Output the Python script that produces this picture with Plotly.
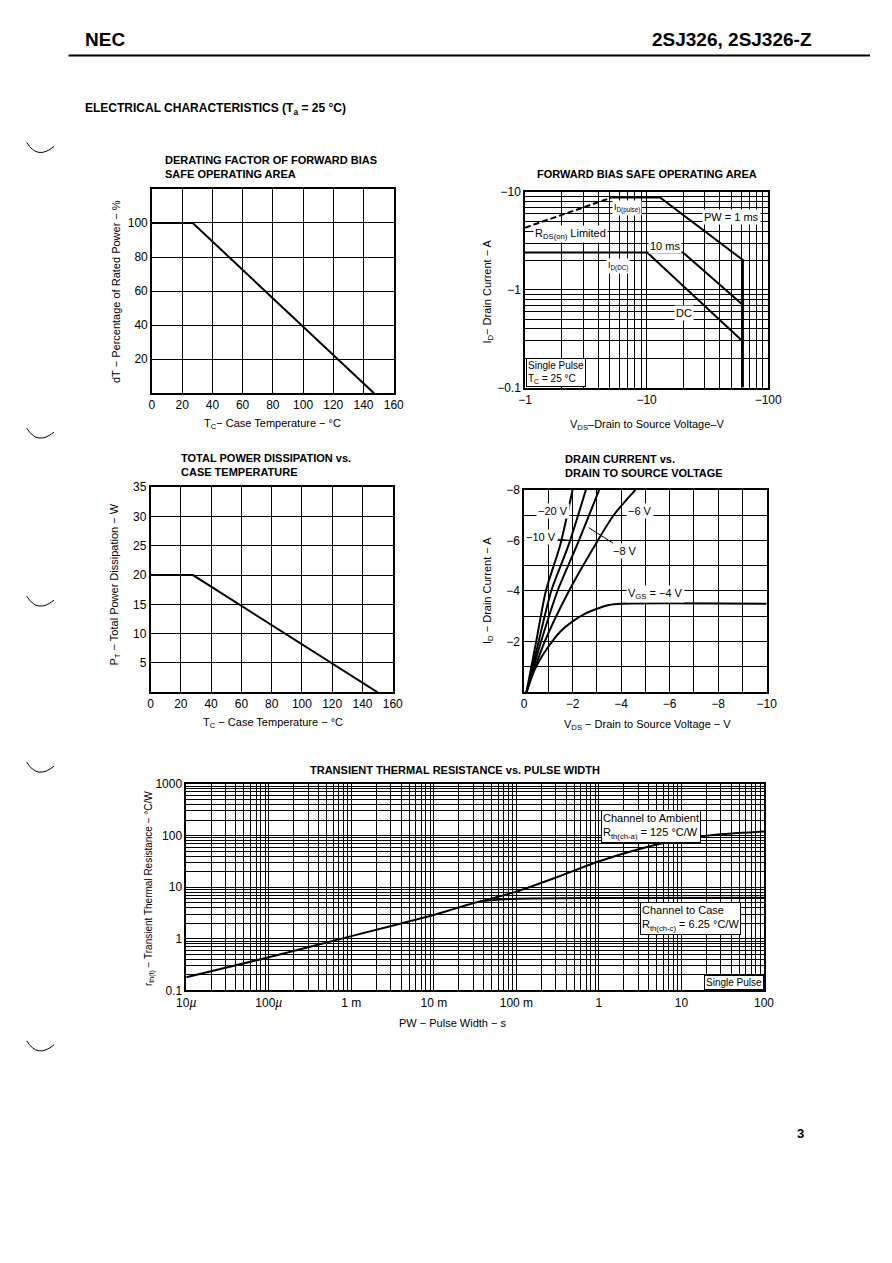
import plotly.graph_objects as go

# Page is 892x1263; the browser adds an 8px body margin, so the figure is
# placed 8px in and kept a little shorter than the page so nothing overflows.
PAGE_W, PAGE_H = 892, 1263
OFF = 8
W, H = PAGE_W - 2 * OFF, 1200
FONT = "Arial, Liberation Sans, Helvetica, sans-serif"

# ---------------- data ----------------
# Derating factor of FBSOA
derating_tc = [0, 27, 147]
derating_pct = [100, 100, 0]

# Total power dissipation vs case temperature
pd_tc = [0, 28, 150]
pd_w = [20, 20, 0]

# Forward bias SOA (magnitudes; V_DS and I_D are negative for this P-ch device)
rds_vds = [1, 5.15]
rds_id = [4.33, 8.82]
pw1ms_vds = [5.15, 12.9, 62, 62]
pw1ms_id = [8.82, 8.82, 2.02, 0.1]
pw10ms_vds = [1, 19.9, 62]
pw10ms_id = [2.42, 2.42, 0.70]
dc_vds = [10.1, 62]
dc_id = [2.42, 0.296]
soa_x_ticks = [1, 10, 100]
soa_x_text = ["\u22121", "\u221210", "\u2212100"]
soa_y_ticks = [0.1, 1, 10]
soa_y_text = ["\u22120.1", "\u22121", "\u221210"]

# Drain current vs drain-to-source voltage
vgs20_vds = [-0.1, -0.5, -0.9, -1.5, -2.0]
vgs20_id = [0, -2.0, -4.0, -5.85, -8.0]
vgs10_vds = [-0.1, -0.6, -1.12, -1.85, -2.55]
vgs10_id = [0, -2.0, -4.0, -5.85, -8.0]
vgs8_vds = [-0.1, -0.7, -1.38, -2.2, -3.1]
vgs8_id = [0, -2.0, -4.0, -5.85, -8.0]
vgs6_vds = [-0.1, -0.85, -1.85, -2.95, -3.7, -4.6]
vgs6_id = [0, -2.0, -4.0, -5.85, -7.0, -8.0]
vgs4_vds = [-0.1, -0.3, -0.6, -1.0, -1.5, -2.0, -2.5, -3.0, -3.5, -4.0, -10.0]
vgs4_id = [0, -0.6, -1.2, -1.8, -2.4, -2.8, -3.1, -3.3, -3.45, -3.5, -3.5]

# Transient thermal resistance vs pulse width
case_pw = [1e-5, 1e-4, 1e-3, 1e-2, 0.0365, 0.1, 1, 100]
case_rth = [0.18, 0.44, 1.13, 2.9, 5.27, 6.0, 6.2, 6.25]
amb_pw = [0.0365, 0.1, 0.32, 0.95, 3.1, 10.4, 32, 100]
amb_rth = [5.27, 8.2, 15.9, 30.8, 55, 86, 107, 120]
tt_x_ticks = [1e-5, 1e-4, 1e-3, 1e-2, 1e-1, 1, 10, 100]
tt_x_text = ["10<i>\u00b5</i>", "100<i>\u00b5</i>", "1 m", "10 m", "100 m", "1", "10", "100"]
tt_y_ticks = [0.1, 1, 10, 100, 1000]
tt_y_text = ["0.1", "1", "10", "100", "1000"]


# ---------------- helpers ----------------
def px(x):
    return (x - OFF) / W


def py(y):
    return 1 - (y - OFF) / H


def dom_x(a, b):
    return [px(a), px(b)]


def dom_y(top, bottom):
    return [py(bottom), py(top)]


def base_axis(**kw):
    d = dict(
        showline=True, mirror=True, linecolor="black", linewidth=1.5,
        showgrid=True, gridcolor="black", gridwidth=0.8,
        zeroline=False, ticks="", tickfont=dict(family=FONT, size=12, color="black"),
        fixedrange=True,
    )
    d.update(kw)
    return d


def log_minor(lo, hi):
    vals = []
    for e in range(lo, hi):
        for m in range(2, 10):
            vals.append(m * 10 ** e)
    return dict(tickmode="array", tickvals=vals, showgrid=True,
                gridcolor="black", gridwidth=0.6, ticks="")


annotations = []


def ann(x, y, text, size=11, xanchor="left", yanchor="middle", angle=0,
        bg=None, border=None, bold=False, align="left"):
    if bold:
        text = "<b>" + text + "</b>"
    d = dict(x=px(x), y=py(y), xref="paper", yref="paper", text=text,
             showarrow=False, xanchor=xanchor, yanchor=yanchor, textangle=angle,
             align=align, font=dict(family=FONT, size=size, color="black"),
             borderpad=1)
    if bg:
        d["bgcolor"] = bg
    if border:
        d["bordercolor"] = border
        d["borderwidth"] = 1
    annotations.append(d)


line_style = dict(color="black", width=2)

fig = go.Figure()

# Chart 1
fig.add_trace(go.Scatter(x=derating_tc, y=derating_pct, mode="lines", line=line_style,
                         xaxis="x", yaxis="y", showlegend=False))
# Chart 2
fig.add_trace(go.Scatter(x=rds_vds, y=rds_id, mode="lines",
                         line=dict(color="black", width=2, dash="6px,3px"),
                         xaxis="x2", yaxis="y2", showlegend=False))
for xs, ys in [(pw1ms_vds, pw1ms_id), (pw10ms_vds, pw10ms_id), (dc_vds, dc_id)]:
    fig.add_trace(go.Scatter(x=xs, y=ys, mode="lines", line=line_style,
                             xaxis="x2", yaxis="y2", showlegend=False))
# Chart 3
fig.add_trace(go.Scatter(x=pd_tc, y=pd_w, mode="lines", line=line_style,
                         xaxis="x3", yaxis="y3", showlegend=False))
# Chart 4
for xs, ys in [(vgs20_vds, vgs20_id), (vgs10_vds, vgs10_id), (vgs8_vds, vgs8_id),
               (vgs6_vds, vgs6_id), (vgs4_vds, vgs4_id)]:
    fig.add_trace(go.Scatter(x=xs, y=ys, mode="lines",
                             line=dict(color="black", width=2, shape="spline", smoothing=0.7),
                             xaxis="x4", yaxis="y4", showlegend=False))
# Chart 5
fig.add_trace(go.Scatter(x=case_pw, y=case_rth, mode="lines",
                         line=dict(color="black", width=2, shape="spline", smoothing=0.5),
                         xaxis="x5", yaxis="y5", showlegend=False))
fig.add_trace(go.Scatter(x=amb_pw, y=amb_rth, mode="lines",
                         line=dict(color="black", width=2, shape="spline", smoothing=0.5),
                         xaxis="x5", yaxis="y5", showlegend=False))

# ---------------- axes ----------------
layout_axes = dict(
    xaxis=base_axis(domain=dom_x(145.7, 394.3), range=[0, 160], anchor="y",
                    tickvals=[0, 20, 40, 60, 80, 100, 120, 140, 160]),
    yaxis=base_axis(domain=dom_y(184, 390.7), range=[0, 120], anchor="x",
                    tickvals=[20, 40, 60, 80, 100]),
    xaxis2=base_axis(domain=dom_x(529.3, 779.3), type="log", range=[0, 2], anchor="y2",
                     tickvals=soa_x_ticks, ticktext=soa_x_text, minor=log_minor(0, 2)),
    yaxis2=base_axis(domain=dom_y(187.3, 385), type="log", range=[-1, 1], anchor="x2",
                     tickvals=soa_y_ticks, ticktext=soa_y_text, minor=log_minor(-1, 1)),
    xaxis3=base_axis(domain=dom_x(144.3, 393.3), range=[0, 160], anchor="y3",
                     tickvals=[0, 20, 40, 60, 80, 100, 120, 140, 160]),
    yaxis3=base_axis(domain=dom_y(485.7, 693.3), range=[0, 35], anchor="x3",
                     tickvals=[5, 10, 15, 20, 25, 30, 35]),
    xaxis4=base_axis(domain=dom_x(528.3, 777.7), range=[0, -10], anchor="y4",
                     tickvals=[0, -2, -4, -6, -8, -10],
                     minor=dict(dtick=1, showgrid=True, gridcolor="black", gridwidth=0.8, ticks="")),
    yaxis4=base_axis(domain=dom_y(488.3, 693.3), range=[0, -8], anchor="x4",
                     tickvals=[-2, -4, -6, -8],
                     minor=dict(dtick=1, showgrid=True, gridcolor="black", gridwidth=0.8, ticks="")),
    xaxis5=base_axis(domain=dom_x(181, 775), type="log", range=[-5, 2], anchor="y5",
                     tickvals=tt_x_ticks, ticktext=tt_x_text, minor=log_minor(-5, 2)),
    yaxis5=base_axis(domain=dom_y(786, 995), type="log", range=[-1, 3], anchor="x5",
                     tickvals=tt_y_ticks, ticktext=tt_y_text, minor=log_minor(-1, 3)),
)

# ---------------- text ----------------
# header
ann(75, 33, "NEC", size=19, bold=True)
ann(826, 33, "2SJ326, 2SJ326-Z", size=19, bold=True, xanchor="right")
ann(75, 103, "ELECTRICAL CHARACTERISTICS (T<sub>a</sub> = 25 \u00b0C)", size=12, bold=True)
ann(818, 1140, "3", size=13, bold=True, xanchor="right")

# chart titles
ann(157, 162, "DERATING FACTOR OF FORWARD BIAS<br>SAFE OPERATING AREA", size=11, bold=True)
ann(655, 169, "FORWARD BIAS SAFE OPERATING AREA", size=11, bold=True, xanchor="center")
ann(174, 463, "TOTAL POWER DISSIPATION vs.<br>CASE TEMPERATURE", size=11, bold=True)
ann(568, 464, "DRAIN CURRENT vs.<br>DRAIN TO SOURCE VOLTAGE", size=11, bold=True)
ann(457, 772, "TRANSIENT THERMAL RESISTANCE vs. PULSE WIDTH", size=11, bold=True, xanchor="center")

# axis titles
ann(108, 288, "dT \u2212 Percentage of Rated Power \u2212 %", size=11, angle=-90, xanchor="center")
ann(270, 422, "T<sub>C</sub>\u2212 Case Temperature \u2212 \u00b0C", size=11, xanchor="center")
ann(491, 288, "I<sub>D</sub>\u2212 Drain Current \u2212 A", size=11, angle=-90, xanchor="center")
ann(655, 423, "V<sub>DS</sub>\u2013Drain to Source Voltage\u2013V", size=11, xanchor="center")
ann(108, 584, "P<sub>T</sub> \u2212 Total Power Dissipation \u2212 W", size=11, angle=-90, xanchor="center")
ann(270, 724, "T<sub>C</sub> \u2212 Case Temperature \u2212 \u00b0C", size=11, xanchor="center")
ann(491, 590, "I<sub>D</sub> \u2212 Drain Current \u2212 A", size=11, angle=-90, xanchor="center")
ann(655, 726, "V<sub>DS</sub> \u2212 Drain to Source Voltage \u2212 V", size=11, xanchor="center")
ann(143, 892, "r<sub>th(t)</sub> \u2212 Transient Thermal Resistance \u2212 \u00b0C/W", size=10, angle=-90, xanchor="center")
ann(455, 1028, "PW \u2212 Pulse Width \u2212 s", size=11, xanchor="center")

# chart 2 labels
ann(619, 203, "I<sub>D(pulse)</sub>", size=9, bg="white")
ann(711, 212, "PW = 1 ms", size=11, bg="white")
ann(538, 230, "R<sub>DS(on)</sub> Limited", size=11, bg="white")
ann(656, 242, "10 ms", size=11, bg="white")
ann(613, 262, "I<sub>D(DC)</sub>", size=9, bg="white")
ann(682, 310, "DC", size=11, bg="white")
ann(530, 384, "Single Pulse<br>T<sub>C</sub> = 25 \u00b0C", size=10, bg="white", border="black",
    yanchor="bottom")

# chart 4 labels
ann(541, 510, "\u221220 V", size=11, bg="white")
ann(633, 510, "\u22126 V", size=11, bg="white")
ann(633, 594, "V<sub>GS</sub> = \u22124 V", size=11, bg="white")
annotations.append(dict(x=-1.87, y=-6.0, xref="x4", yref="y4", text="\u221210 V",
                        showarrow=True, arrowhead=0, arrowwidth=1, arrowcolor="black",
                        ax=-28, ay=-3, bgcolor="white",
                        font=dict(family=FONT, size=11, color="black")))
annotations.append(dict(x=-2.67, y=-6.5, xref="x4", yref="y4", text="\u22128 V",
                        showarrow=True, arrowhead=0, arrowwidth=1, arrowcolor="black",
                        ax=36, ay=23, bgcolor="white",
                        font=dict(family=FONT, size=11, color="black")))

# chart 5 labels
ann(607, 829, "Channel to Ambient<br>R<sub>th(ch-a)</sub> = 125 \u00b0C/W", size=11, bg="white", border="black")
ann(648, 922, "Channel to Case<br>R<sub>th(ch-c)</sub> = 6.25 \u00b0C/W", size=11, bg="white", border="black")
ann(775, 995, "Single Pulse", size=10, bg="white", border="black", xanchor="right", yanchor="bottom")

# ---------------- shapes ----------------
shapes = [dict(type="line", xref="paper", yref="paper", x0=px(60), x1=1.0, y0=py(49), y1=py(49),
               line=dict(color="black", width=2))]
for cy in [141, 430, 600, 768, 1050]:
    shapes.append(dict(type="path", xref="paper", yref="paper",
                       path="M {} {} Q {} {} {} {}".format(px(17), py(cy - 4), px(28), py(cy + 14),
                                                           px(45), py(cy)),
                       line=dict(color="black", width=1)))

fig.update_layout(
    width=W, height=H, margin=dict(l=0, r=0, t=0, b=0),
    paper_bgcolor="white", plot_bgcolor="white",
    font=dict(family=FONT, color="black"),
    annotations=annotations, shapes=shapes, showlegend=False,
    **layout_axes,
)

fig.write_html("out.html", config={"displayModeBar": False})
